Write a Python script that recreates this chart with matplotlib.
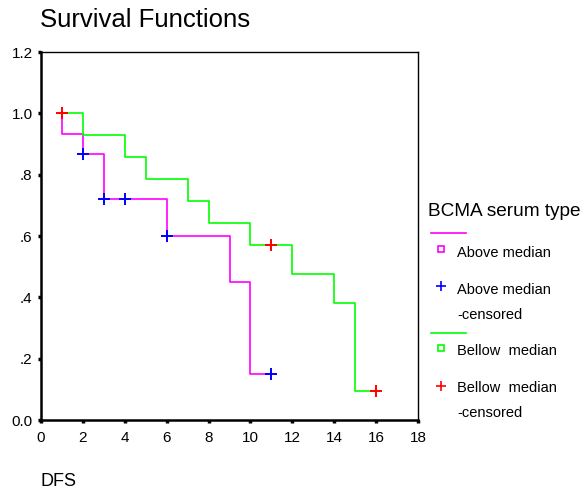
import matplotlib
matplotlib.use("Agg")
import matplotlib.pyplot as plt
from matplotlib.lines import Line2D

plt.rcParams['font.family'] = ['Liberation Sans', 'DejaVu Sans']

# Kaplan-Meier step data
above_t = [1, 1, 2, 3, 6, 9, 10, 11]
above_s = [1.0, 0.933, 0.867, 0.722, 0.600, 0.450, 0.150, 0.150]
above_cens_t = [2, 3, 4, 6, 11]
above_cens_s = [0.867, 0.722, 0.722, 0.600, 0.150]

below_t = [1, 2, 4, 5, 7, 8, 10, 12, 14, 15, 16]
below_s = [1.0, 0.929, 0.857, 0.786, 0.714, 0.643, 0.571, 0.476, 0.381, 0.095, 0.095]
below_cens_t = [1, 11, 16]
below_cens_s = [1.0, 0.571, 0.095]

xticks = [0, 2, 4, 6, 8, 10, 12, 14, 16, 18]
yticks = [0.0, 0.2, 0.4, 0.6, 0.8, 1.0, 1.2]
ytick_labels = ['0.0', '.2', '.4', '.6', '.8', '1.0', '1.2']

W, H = 584, 492
fig = plt.figure(figsize=(W / 100, H / 100), dpi=100)
ax = fig.add_axes([41 / W, 1 - 420 / H, (418 - 41) / W, (420 - 52) / H])

ax.step(above_t, above_s, where='post', color='#FF00FF', lw=1.2, zorder=2)
ax.step(below_t, below_s, where='post', color='#00FF00', lw=1.2, zorder=3)
ax.plot(above_cens_t, above_cens_s, '+', color='#0000FF', ms=8, mew=1.4, zorder=4)
ax.plot(below_cens_t, below_cens_s, '+', color='#FF0000', ms=8, mew=1.4, zorder=4)

ax.set_xlim(0, 18)
ax.set_ylim(0, 1.2)
ax.set_xticks(xticks)
ax.set_yticks(yticks)
ax.set_yticklabels(ytick_labels)
ax.tick_params(direction='out', length=2, width=2.5, labelsize=11)
ax.tick_params(axis='x', pad=6)
ax.tick_params(axis='y', pad=4)
for side in ['left', 'bottom']:
    ax.spines[side].set_linewidth(1.8)
for side in ['top', 'right']:
    ax.spines[side].set_linewidth(1.0)

fig.text(40 / W, 1 - 20 / H, 'Survival Functions', fontsize=18.5, va='center', ha='left')
fig.text(40 / W, 1 - 482 / H, 'DFS', fontsize=13, va='center', ha='left')

# legend drawn by hand
fig.text(428 / W, 1 - 211 / H, 'BCMA serum type', fontsize=13.7, va='center', ha='left')
lx0, lx1, mx, tx = 431, 466, 441, 457
fig.add_artist(Line2D([lx0 / W, lx1 / W], [1 - 233 / H] * 2, color='#FF00FF', lw=1.2))
fig.add_artist(Line2D([mx / W], [1 - 249 / H], marker='s', ms=4.5, mfc='none', mec='#FF00FF', mew=1.2))
fig.text(tx / W, 1 - 253 / H, 'Above median', fontsize=10.5, va='center')
fig.add_artist(Line2D([mx / W], [1 - 286 / H], marker='+', ms=7, color='#0000FF', mew=1.2))
fig.text(tx / W, 1 - 290 / H, 'Above median', fontsize=10.5, va='center')
fig.text(tx / W, 1 - 315 / H, '-censored', fontsize=10.5, va='center')
fig.add_artist(Line2D([lx0 / W, lx1 / W], [1 - 333 / H] * 2, color='#00FF00', lw=1.2))
fig.add_artist(Line2D([mx / W], [1 - 348 / H], marker='s', ms=4.5, mfc='none', mec='#00FF00', mew=1.2))
fig.text(tx / W, 1 - 351 / H, 'Bellow  median', fontsize=10.5, va='center')
fig.add_artist(Line2D([mx / W], [1 - 386 / H], marker='+', ms=7, color='#FF0000', mew=1.2))
fig.text(tx / W, 1 - 388 / H, 'Bellow  median', fontsize=10.5, va='center')
fig.text(tx / W, 1 - 413 / H, '-censored', fontsize=10.5, va='center')

fig.savefig('out.png', dpi=100)
